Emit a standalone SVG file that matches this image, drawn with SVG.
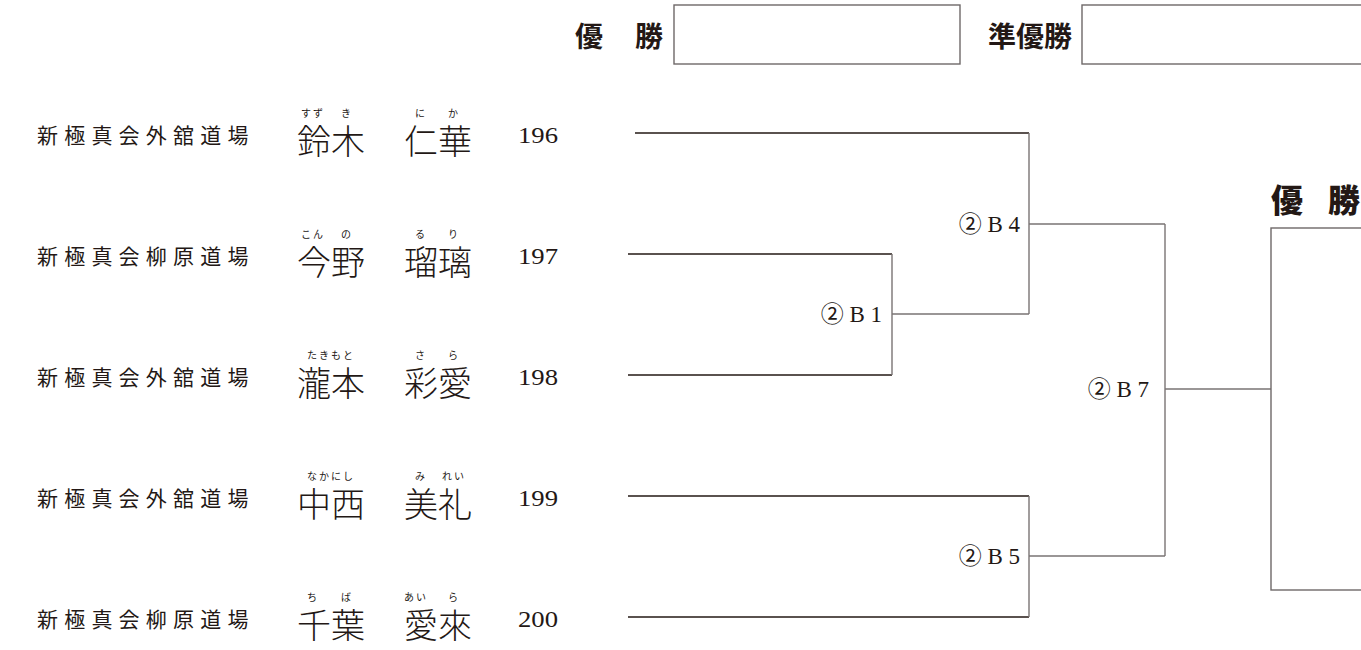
<svg xmlns="http://www.w3.org/2000/svg" width="1361" height="650" viewBox="0 0 1361 650">
<style>
text{fill:#231815}
.org{font-family:"Noto Sans CJK JP","Noto Sans CJK SC",sans-serif;font-size:21px;font-weight:400;letter-spacing:6.2px}
.name{font-family:"Noto Sans CJK JP","Noto Sans CJK SC",sans-serif;font-size:34px;font-weight:300}
.ruby{font-family:"Noto Sans CJK JP","Noto Sans CJK SC",sans-serif;font-size:10px;font-weight:400;letter-spacing:2px;text-anchor:middle}
.num{font-family:"Liberation Serif",serif;font-size:24px}
.lbl{font-family:"Liberation Serif","Noto Sans CJK JP",serif;font-size:23px;text-anchor:end}
.head{font-family:"Noto Sans CJK JP","Noto Sans CJK SC",sans-serif;font-size:28px;font-weight:700}
.headr{font-family:"Noto Sans CJK JP","Noto Sans CJK SC",serif;font-size:32px;font-weight:900}
.entry{stroke:#231815;stroke-width:1.3;fill:none}
.br{stroke:#7a7474;stroke-width:1.4;fill:none}
.box{stroke:#6e6868;stroke-width:1.4;fill:#fff}
</style>
<g id="header">
<text class="head" x="575" y="47">優</text>
<text class="head" x="635" y="47">勝</text>
<rect class="box" x="674" y="5" width="286" height="59"/>
<text class="head" x="988" y="47">準優勝</text>
<rect class="box" x="1082" y="5" width="290" height="59"/>
</g>
<g id="p196">
<text class="org" x="37" y="143">新極真会外舘道場</text>
<text class="ruby" x="313" y="117">すず</text><text class="ruby" x="347" y="117">き</text>
<text class="ruby" x="421" y="117">に</text><text class="ruby" x="454" y="117">か</text>
<text class="name" x="297" y="154">鈴木</text><text class="name" x="404" y="154">仁華</text>
<text class="num" x="518" y="143" textLength="40" lengthAdjust="spacingAndGlyphs">196</text>
</g>
<g id="p197">
<text class="org" x="37" y="264">新極真会柳原道場</text>
<text class="ruby" x="313" y="238">こん</text><text class="ruby" x="347" y="238">の</text>
<text class="ruby" x="421" y="238">る</text><text class="ruby" x="454" y="238">り</text>
<text class="name" x="297" y="275">今野</text><text class="name" x="404" y="275">瑠璃</text>
<text class="num" x="518" y="264" textLength="40" lengthAdjust="spacingAndGlyphs">197</text>
</g>
<g id="p198">
<text class="org" x="37" y="385">新極真会外舘道場</text>
<text class="ruby" x="331" y="359">たきもと</text>
<text class="ruby" x="421" y="359">さ</text><text class="ruby" x="454" y="359">ら</text>
<text class="name" x="297" y="396">瀧本</text><text class="name" x="404" y="396">彩愛</text>
<text class="num" x="518" y="385" textLength="40" lengthAdjust="spacingAndGlyphs">198</text>
</g>
<g id="p199">
<text class="org" x="37" y="506">新極真会外舘道場</text>
<text class="ruby" x="331" y="480">なかにし</text>
<text class="ruby" x="421" y="480">み</text><text class="ruby" x="454" y="480">れい</text>
<text class="name" x="297" y="517">中西</text><text class="name" x="404" y="517">美礼</text>
<text class="num" x="518" y="506" textLength="40" lengthAdjust="spacingAndGlyphs">199</text>
</g>
<g id="p200">
<text class="org" x="37" y="627">新極真会柳原道場</text>
<text class="ruby" x="313" y="601">ち</text><text class="ruby" x="347" y="601">ば</text>
<text class="ruby" x="416" y="601">あい</text><text class="ruby" x="454" y="601">ら</text>
<text class="name" x="297" y="638">千葉</text><text class="name" x="404" y="638">愛來</text>
<text class="num" x="518" y="627" textLength="40" lengthAdjust="spacingAndGlyphs">200</text>
</g>
<g id="connectors">
<path class="entry" d="M635 133H1029"/>
<path class="entry" d="M628 254H892"/>
<path class="entry" d="M628 375H892"/>
<path class="entry" d="M628 496H1029"/>
<path class="entry" d="M628 617H1029"/>
<path class="br" d="M892 254V375M892 314H1029M1029 133V314M1029 224H1165M1029 496V617M1029 556H1165M1165 224V556M1165 389H1271"/>
</g>
<g id="m_b1"><text class="lbl" x="882" y="322">② B 1</text></g>
<g id="m_b4"><text class="lbl" x="1020" y="232">② B 4</text></g>
<g id="m_b5"><text class="lbl" x="1020" y="564">② B 5</text></g>
<g id="m_b7"><text class="lbl" x="1149" y="397">② B 7</text></g>
<g id="champion">
<text class="headr" x="1271" y="212">優</text>
<text class="headr" x="1328" y="212">勝</text>
<rect class="box" x="1271" y="228" width="100" height="362"/>
</g>
</svg>
